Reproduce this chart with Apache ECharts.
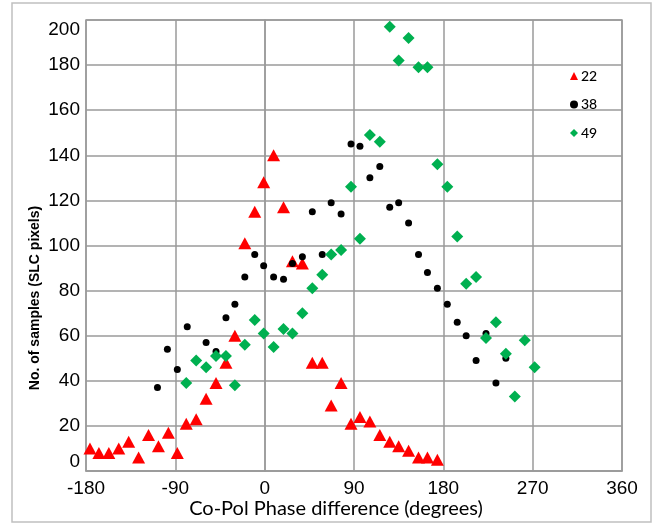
<!DOCTYPE html>
<html>
<head>
<meta charset="utf-8">
<script src="https://cdn.jsdelivr.net/npm/echarts@6/dist/echarts.min.js"></script>
<style>
  html, body { margin: 0; padding: 0; background: #fff; }
  #chart { width: 657px; height: 524px; }
</style>
</head>
<body>
<div id="chart"></div>
<script>
// series: phase difference (deg) and sample count
var redX = [-176,-167,-157,-147,-137,-127,-117,-107,-97,-88,-79,-69,-59,-49,-39,-30,-20,-10,-1,9,19,28,38,48,58,67,77,87,96,106,116,126,135,145,155,164,174];
var redY = [10,8,8,10,13,6,16,11,17,8,21,23,32,39,48,60,101,115,128,140,117,93,92,48,48,29,39,21,24,22,16,13,11,9,6,6,5];

var blackX = [-108,-98,-88,-78,-59,-49,-39,-30,-20,-10,-1,9,19,28,38,48,58,67,77,87,96,106,116,126,135,145,155,164,174,184,194,203,213,223,233,243];
var blackY = [37,54,45,64,57,53,68,74,86,96,91,86,85,92,95,115,96,119,114,145,144,130,135,117,119,110,96,88,81,74,66,60,49,61,39,50];

var greenX = [-79,-69,-59,-49,-39,-30,-20,-10,-1,9,19,28,38,48,58,67,77,87,96,106,116,126,135,145,155,164,174,184,194,203,213,223,233,243,252,262,272];
var greenY = [39,49,46,51,51,38,56,67,61,55,63,61,70,81,87,96,98,126,103,149,146,197,182,192,179,179,136,126,104,83,86,59,66,52,33,58,46];

var seriesNames = ['22', '38', '49'];

function pairs(xs, ys) {
  var out = [];
  for (var i = 0; i < xs.length; i++) out.push([xs[i], ys[i]]);
  return out;
}

var gridColor = '#9a9a9a';
var chart = echarts.init(document.getElementById('chart'));
var option = {
  animation: false,
  grid: {
    left: 86, right: 35, top: 20, bottom: 53,
    show: true, borderColor: gridColor, borderWidth: 1.5
  },
  legend: {
    orient: 'vertical',
    left: 565, top: 64,
    itemWidth: 8, itemHeight: 8, itemGap: 14.5,
    textStyle: { fontFamily: 'Lato', fontSize: 14, fontWeight: 500, color: '#000', padding: [0, 0, 0, -2] },
    data: seriesNames
  },
  xAxis: {
    type: 'value',
    min: -180, max: 360, interval: 90,
    axisLine: { lineStyle: { color: gridColor, width: 1.5 } },
    axisTick: { show: false },
    axisLabel: { fontFamily: 'Liberation Sans', fontSize: 19, color: '#000', margin: 8 },
    splitLine: { lineStyle: { color: gridColor, width: 1.5 } }
  },
  yAxis: {
    type: 'value',
    min: 0, max: 200, interval: 20,
    axisLine: { lineStyle: { color: gridColor, width: 1.5 } },
    axisTick: { show: false },
    axisLabel: {
      fontFamily: 'Liberation Sans', fontSize: 19, color: '#000', margin: 6,
      verticalAlignMaxLabel: 'top', verticalAlignMinLabel: 'bottom'
    },
    splitLine: { lineStyle: { color: gridColor, width: 1.5 } }
  },
  graphic: [
    {
      type: 'rect', silent: true, z: -1,
      shape: { x: 12, y: 3, width: 639, height: 519 },
      style: { fill: 'none', stroke: '#c0c0c0', lineWidth: 1.5 }
    },
    {
      type: 'text', x: 35, y: 298, rotation: Math.PI / 2,
      style: {
        text: 'No. of samples (SLC pixels)',
        font: 'bold 14px "Liberation Sans"', fill: '#000',
        textAlign: 'center', textVerticalAlign: 'middle'
      }
    },
    {
      type: 'text', x: 336, y: 509,
      style: {
        text: 'Co-Pol Phase difference (degrees)',
        font: '20px Lato', fill: '#000',
        textAlign: 'center', textVerticalAlign: 'middle'
      }
    }
  ],
  series: [
    {
      name: seriesNames[0], type: 'scatter',
      symbol: 'triangle', symbolSize: [13, 12],
      itemStyle: { color: '#ff0000', opacity: 1 },
      data: pairs(redX, redY), z: 2
    },
    {
      name: seriesNames[1], type: 'scatter',
      symbol: 'circle', symbolSize: 7,
      itemStyle: { color: '#000000', opacity: 1 },
      data: pairs(blackX, blackY), z: 3
    },
    {
      name: seriesNames[2], type: 'scatter',
      symbol: 'diamond', symbolSize: 12,
      itemStyle: { color: '#00b050', opacity: 1 },
      data: pairs(greenX, greenY), z: 4
    }
  ]
};
option && chart.setOption(option);
</script>
</body>
</html>
